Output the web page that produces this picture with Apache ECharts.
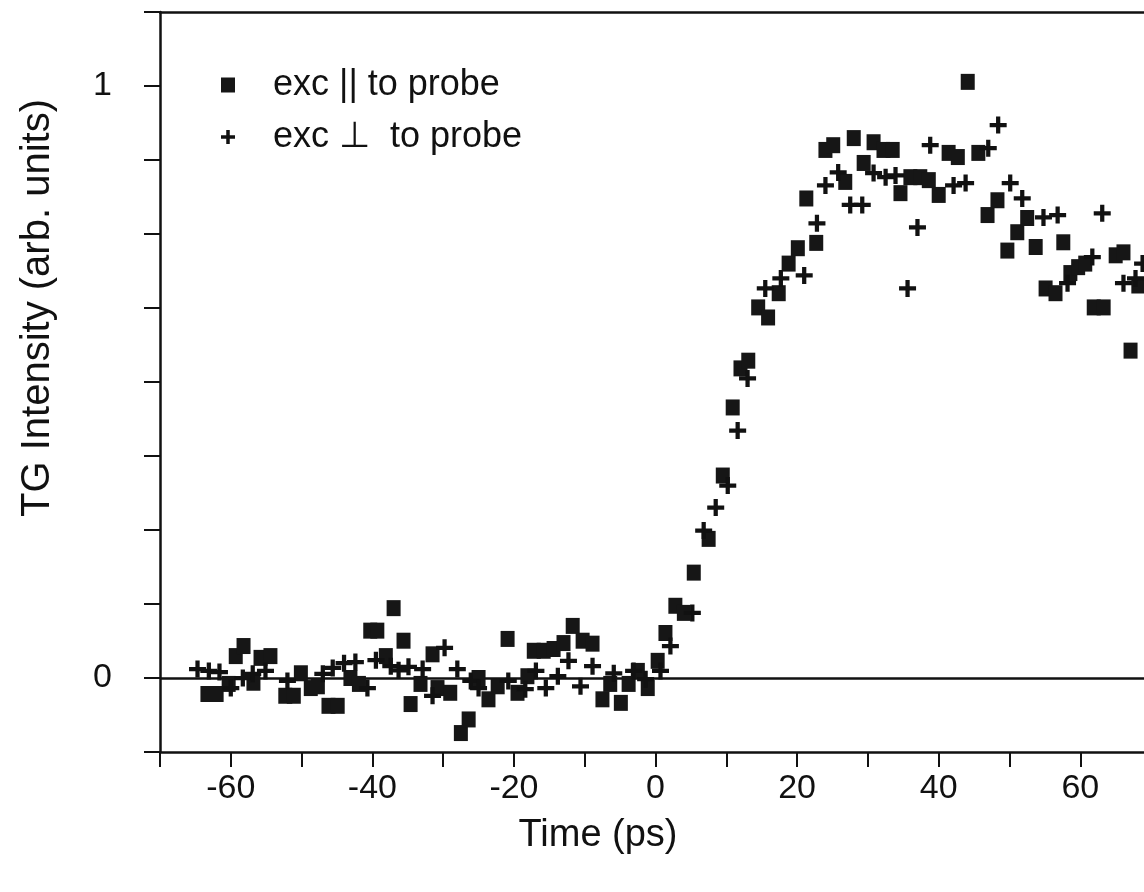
<!DOCTYPE html>
<html>
<head>
<meta charset="utf-8">
<script src="https://cdn.jsdelivr.net/npm/echarts@6/dist/echarts.min.js"></script>
<style>
html,body{margin:0;padding:0;background:#fff;}
#chart{width:1144px;height:892px;}
</style>
</head>
<body>
<div id="chart"></div>
<script>
// exc || to probe (squares): [time ps, intensity]
const parallelData = [
[-63.3,-0.027],[-62.0,-0.027],[-60.3,-0.010],[-59.3,0.037],[-58.2,0.054],[-56.8,-0.008],
[-55.8,0.034],[-54.4,0.037],[-52.3,-0.030],[-51.1,-0.030],[-50.1,0.008],[-48.7,-0.017],
[-47.7,-0.014],[-46.2,-0.047],[-44.9,-0.047],[-43.1,0.000],[-41.9,-0.010],[-40.3,0.080],
[-39.3,0.080],[-38.1,0.037],[-37.0,0.118],[-35.6,0.063],[-34.6,-0.044],[-33.2,-0.010],
[-31.5,0.040],[-30.8,-0.017],[-29.0,-0.025],[-27.5,-0.093],[-26.4,-0.070],[-25.0,0.000],
[-23.6,-0.036],[-22.3,-0.014],[-20.9,0.066],[-19.5,-0.025],[-18.1,0.003],[-17.2,0.046],
[-15.8,0.046],[-14.4,0.049],[-13.0,0.059],[-11.7,0.088],[-10.3,0.063],[-8.9,0.058],
[-7.5,-0.036],[-6.4,-0.010],[-4.9,-0.042],[-3.8,-0.010],[-2.5,0.012],[-1.1,-0.017],
[0.3,0.029],[1.4,0.076],[2.8,0.122],[4.0,0.110],[5.4,0.178],[7.5,0.235],
[9.5,0.342],[10.9,0.457],[12.0,0.523],[13.1,0.536],[14.5,0.626],[15.9,0.609],
[17.4,0.650],[18.8,0.700],[20.1,0.726],[21.3,0.810],[22.7,0.735],[24.0,0.892],
[25.1,0.900],[26.8,0.838],[28.0,0.912],[29.4,0.870],[30.8,0.905],[32.2,0.892],
[33.5,0.892],[34.6,0.819],[36.0,0.846],[37.4,0.846],[38.6,0.841],[40.0,0.816],
[41.4,0.887],[42.7,0.880],[44.1,1.007],[45.6,0.887],[46.9,0.782],[48.3,0.807],
[49.7,0.722],[51.1,0.753],[52.5,0.777],[53.7,0.728],[55.1,0.658],[56.5,0.650],
[57.6,0.736],[58.6,0.684],[59.7,0.694],[60.7,0.700],[61.9,0.626],[63.3,0.626],
[65.0,0.714],[66.1,0.719],[67.1,0.553],[68.2,0.663]
];
// exc ⊥ to probe (plus signs): [time ps, intensity]
const perpData = [
[-64.7,0.015],[-63.1,0.012],[-61.6,0.010],[-60.0,-0.017],[-58.3,0.000],[-56.9,0.007],
[-55.1,0.012],[-52.0,-0.005],[-47.0,0.007],[-45.6,0.017],[-44.0,0.025],[-42.4,0.027],
[-40.7,-0.017],[-39.5,0.030],[-37.4,0.020],[-36.3,0.013],[-34.9,0.019],[-32.9,0.015],
[-31.5,-0.030],[-29.8,0.051],[-28.0,0.015],[-26.1,-0.005],[-25.0,-0.017],[-20.8,-0.005],
[-18.4,-0.019],[-16.9,0.012],[-15.5,-0.017],[-13.8,0.003],[-12.3,0.029],[-10.6,-0.014],
[-8.9,0.020],[-5.9,0.008],[-3.1,0.012],[-1.4,-0.002],[0.7,0.012],[2.1,0.054],
[5.2,0.110],[6.8,0.249],[8.5,0.288],[10.2,0.325],[11.6,0.418],[13.0,0.506],
[15.5,0.658],[17.7,0.675],[21.0,0.680],[22.8,0.768],[24.0,0.832],[25.8,0.854],
[27.5,0.799],[29.2,0.799],[30.8,0.853],[32.5,0.846],[33.9,0.849],[35.6,0.658],
[37.0,0.761],[38.8,0.900],[42.1,0.832],[43.8,0.836],[47.0,0.895],[48.4,0.934],
[50.1,0.836],[51.8,0.810],[54.8,0.778],[56.8,0.782],[58.2,0.667],[61.7,0.711],
[63.1,0.785],[66.1,0.667],[67.8,0.675],[68.8,0.700]
];
const seriesNames = ['exc || to probe', 'exc \u22A5  to probe'];
const xTickValues = [-70, -60, -50, -40, -30, -20, -10, 0, 10, 20, 30, 40, 50, 60];
const xLabelValues = [-60, -40, -20, 0, 20, 40, 60];
const yLabelValues = [0, 1];

const FONT = "'Liberation Sans', Arial, Helvetica, sans-serif";
const INK = '#111';
const plusPath = 'path://M6,0H10V6H16V10H10V16H6V10H0V6H6Z';

const chart = echarts.init(document.getElementById('chart'), null, {renderer: 'canvas'});
chart.setOption({
  animation: false,
  backgroundColor: '#fff',
  grid: {left: 160, top: 12, right: 0, height: 740, show: false},
  legend: {
    data: seriesNames,
    orient: 'vertical',
    left: 216, top: 62,
    itemWidth: 14, itemHeight: 15, itemGap: 16,
    selectedMode: false,
    textStyle: {fontFamily: FONT, fontSize: 36, color: INK, padding: [0, 0, 0, 33]}
  },
  xAxis: [{
    type: 'value', min: -70, max: 69, interval: 10,
    axisLine: {show: true, onZero: false, lineStyle: {color: INK, width: 2.5}},
    axisTick: {show: true, length: 15, customValues: xTickValues, lineStyle: {color: INK, width: 2}},
    splitLine: {show: false},
    axisLabel: {
      margin: 20, fontFamily: FONT, fontSize: 34, color: INK,
      customValues: xLabelValues,
      formatter: v => String(v)
    }
  }, {
    type: 'value', position: 'top', min: -70, max: 69,
    axisLine: {show: true, onZero: false, lineStyle: {color: INK, width: 2.5}},
    axisTick: {show: false}, axisLabel: {show: false}, splitLine: {show: false}
  }],
  yAxis: {
    type: 'value', min: -0.125, max: 1.125, interval: 0.125,
    axisLine: {show: true, onZero: false, lineStyle: {color: INK, width: 2.5}},
    axisTick: {show: true, length: 16, lineStyle: {color: INK, width: 2}},
    splitLine: {show: false},
    axisLabel: {
      margin: 48, fontFamily: FONT, fontSize: 34, color: INK,
      formatter: v => yLabelValues.includes(v) ? String(v) : ''
    }
  },
  graphic: [
    {type: 'text', x: 598, y: 836, style: {text: 'Time (ps)', font: '38px ' + FONT, fill: INK, align: 'center', verticalAlign: 'middle'}},
    {type: 'text', x: 38, y: 308, rotation: Math.PI / 2, style: {text: 'TG Intensity (arb. units)', font: '40px ' + FONT, fill: INK, align: 'center', verticalAlign: 'middle'}}
  ],
  series: [
    {
      name: seriesNames[0], type: 'scatter', z: 6,
      symbol: 'rect', symbolSize: [14, 16],
      itemStyle: {color: '#161616', opacity: 1},
      data: parallelData,
      markLine: {
        silent: true, symbol: 'none', z: 3,
        label: {show: false},
        lineStyle: {color: INK, width: 2.5, type: 'solid', opacity: 1},
        data: [{yAxis: 0}]
      }
    },
    {
      name: seriesNames[1], type: 'scatter', z: 6,
      symbol: plusPath, symbolSize: 17,
      itemStyle: {color: INK, opacity: 1},
      data: perpData
    }
  ]
});
</script>
</body>
</html>
